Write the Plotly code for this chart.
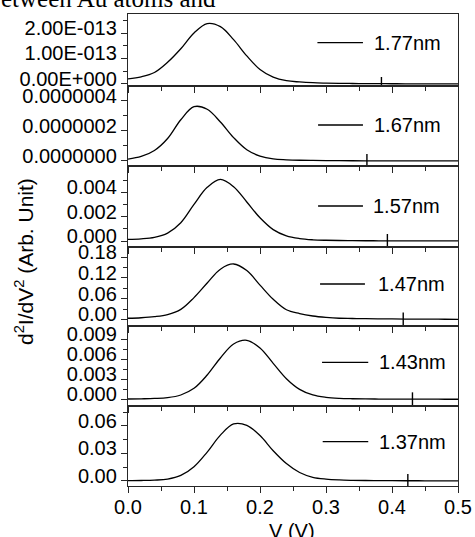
import plotly.graph_objects as go

# ---- data ----
V = [0.00, 0.02, 0.04, 0.06, 0.08, 0.10, 0.12, 0.14, 0.16, 0.18, 0.20, 0.22, 0.24,
     0.26, 0.28, 0.30, 0.32, 0.34, 0.36, 0.38, 0.40, 0.42, 0.44, 0.46, 0.48, 0.50]

labels = ["1.77nm", "1.67nm", "1.57nm", "1.47nm", "1.43nm", "1.37nm"]

# values per panel (panel scale factor applied below)
p177 = [0.20, 0.28, 0.45, 0.85, 1.38, 2.00, 2.37, 2.25, 1.74, 1.10, 0.57, 0.27, 0.13,
        0.08, 0.05, 0.035, 0.025, 0.02, 0.015, 0.012, 0.01, 0.008, 0.006, 0.005, 0.004, 0.003]   # x1e-13
p167 = [0.13, 0.30, 0.70, 1.50, 2.75, 3.62, 3.45, 2.60, 1.56, 0.75, 0.33, 0.14, 0.08,
        0.05, 0.035, 0.025, 0.02, 0.016, 0.013, 0.011, 0.009, 0.007, 0.006, 0.005, 0.004, 0.003]  # x1e-7
p157 = [0.14, 0.18, 0.30, 0.65, 1.50, 3.00, 4.40, 5.05, 4.45, 3.20, 1.90, 0.93, 0.42,
        0.20, 0.10, 0.06, 0.04, 0.03, 0.022, 0.017, 0.013, 0.010, 0.008, 0.006, 0.005, 0.004]  # x1e-3
p147 = [3.5, 5.0, 8.0, 14.0, 29.0, 63.0, 105.0, 145.0, 160.0, 141.0, 99.0, 58.0, 28.0,
        17.0, 10.0, 6.0, 3.5, 2.8, 2.2, 1.8, 1.5, 1.2, 1.0, 0.8, 0.6, 0.5]  # x1e-3
p143 = [0.05, 0.08, 0.13, 0.25, 0.65, 1.65, 3.65, 6.2, 8.3, 8.85, 7.7, 5.4, 3.1,
        1.5, 0.65, 0.3, 0.15, 0.09, 0.06, 0.045, 0.035, 0.028, 0.022, 0.018, 0.015, 0.012]  # x1e-3
p137 = [0.3, 0.5, 0.9, 2.0, 6.0, 15.5, 31.5, 50.0, 62.2, 60.7, 49.5, 33.0, 19.0,
        9.2, 4.0, 2.0, 1.1, 0.7, 0.5, 0.4, 0.32, 0.26, 0.22, 0.18, 0.15, 0.12]  # x1e-3

scales = [1e-13, 1e-7, 1e-3, 1e-3, 1e-3, 1e-3]
series = [p177, p167, p157, p147, p143, p137]

# small vertical marks on the baseline
mark_v = [0.384, 0.362, 0.393, 0.417, 0.431, 0.424]

y_ranges = [[-0.078e-13, 2.745e-13], [-0.333e-7, 5.0e-7], [-0.00049, 0.00615],
            [-0.0188, 0.209], [-0.001, 0.011], [-0.0055, 0.0818]]
y_tickvals = [[0, 1e-13, 2e-13], [0, 2e-7, 4e-7], [0, 0.002, 0.004],
              [0, 0.06, 0.12, 0.18], [0, 0.003, 0.006, 0.009], [0, 0.03, 0.06]]
y_ticktext = [["0.00E+000", "1.00E-013", "2.00E-013"],
              ["0.0000000", "0.0000002", "0.0000004"],
              ["0.000", "0.002", "0.004"],
              ["0.00", "0.06", "0.12", "0.18"],
              ["0.000", "0.003", "0.006", "0.009"],
              ["0.00", "0.03", "0.06"]]
y_minor = [[0.5e-13, 1.5e-13, 2.5e-13], [1e-7, 3e-7], [0.001, 0.003, 0.005],
           [0.03, 0.09, 0.15], [0.0015, 0.0045, 0.0075], [0.015, 0.045, 0.075]]
x_ticks = [0.0, 0.1, 0.2, 0.3, 0.4, 0.5]
x_ticktext = ["0.0", "0.1", "0.2", "0.3", "0.4", "0.5"]

# ---- layout geometry ----
domains = [[0.8475, 1.0], [0.678, 0.8475], [0.5064, 0.678],
           [0.339, 0.5064], [0.1695, 0.339], [0.0, 0.1695]]
legend_y = [0.9392, 0.7648, 0.5932, 0.4280, 0.2621, 0.0939]
legend_line = [[0.287, 0.356], [0.288, 0.356], [0.288, 0.356],
               [0.291, 0.359], [0.294, 0.364], [0.295, 0.364]]
legend_text_x = [0.369, 0.369, 0.368, 0.376, 0.377, 0.377]

FONT = "Liberation Sans, Arial, sans-serif"
AX = "#262626"

fig = go.Figure()
layout = dict(
    width=475, height=537,
    margin=dict(l=128, r=17, t=14, b=51, autoexpand=False),
    paper_bgcolor="white", plot_bgcolor="white",
    showlegend=False,
    font=dict(family=FONT, size=20, color="black"),
)
annotations = []
shapes = []

for i in range(6):
    n = "" if i == 0 else str(i + 1)
    xa, ya = "x" + n, "y" + n
    yv = [v * scales[i] for v in series[i]]
    fig.add_trace(go.Scatter(x=V, y=yv, mode="lines", xaxis=xa, yaxis=ya,
                             line=dict(color="black", width=1.3, shape="spline")))
    fig.add_trace(go.Scatter(x=[mark_v[i]], y=[0], mode="markers", xaxis=xa, yaxis=ya,
                             marker=dict(symbol="line-ns", size=10,
                                         line=dict(color="black", width=1.4))))
    layout["xaxis" + n] = dict(
        domain=[0, 1], anchor=ya, range=[0, 0.5], automargin=False,
        showline=True, linecolor=AX, linewidth=1.3, mirror=True,
        showgrid=False, zeroline=False,
        tickmode="array", tickvals=x_ticks, ticktext=x_ticktext,
        ticks="outside", ticklen=6, tickwidth=1.2, tickcolor=AX,
        minor=dict(tickmode="array", tickvals=[0.05, 0.15, 0.25, 0.35, 0.45],
                   ticks="outside", ticklen=4, tickwidth=1.2, tickcolor=AX),
        showticklabels=(i == 5), ticklabelstandoff=-3,
        tickfont=dict(family=FONT, size=20, color="black"),
    )
    layout["yaxis" + n] = dict(
        domain=domains[i], anchor=xa, range=y_ranges[i], automargin=False,
        showline=True, linecolor=AX, linewidth=1.3, mirror=True,
        showgrid=False, zeroline=False,
        tickmode="array", tickvals=y_tickvals[i], ticktext=y_ticktext[i],
        ticks="outside", ticklen=6, tickwidth=1.2, tickcolor=AX,
        minor=dict(tickmode="array", tickvals=y_minor[i],
                   ticks="outside", ticklen=4, tickwidth=1.2, tickcolor=AX),
        tickfont=dict(family=FONT, size=20, color="black"),
        ticklabelshift=-5,
    )
    # legend sample
    shapes.append(dict(type="line", xref=xa, yref="paper",
                       x0=legend_line[i][0], x1=legend_line[i][1],
                       y0=legend_y[i], y1=legend_y[i],
                       line=dict(color="black", width=1.3)))
    annotations.append(dict(text=labels[i], xref=xa, yref="paper",
                            x=legend_text_x[i], y=legend_y[i],
                            xanchor="left", yanchor="middle", showarrow=False,
                            font=dict(family=FONT, size=20, color="black")))

annotations.append(dict(text="d<sup>2</sup>I/dV<sup>2</sup> (Arb. Unit)",
                        xref="paper", yref="paper", x=-0.315, y=0.4746,
                        xanchor="center", yanchor="middle", textangle=-90,
                        showarrow=False,
                        font=dict(family=FONT, size=21, color="black")))
annotations.append(dict(text="V (V)", xref="paper", yref="paper", x=0.497, y=-0.068,
                        xanchor="center", yanchor="top", showarrow=False,
                        font=dict(family=FONT, size=20, color="black")))
annotations.append(dict(text="etween Au atoms and", xref="paper", yref="paper",
                        x=-0.39, y=1.0005, xanchor="left", yanchor="bottom",
                        showarrow=False,
                        font=dict(family="Liberation Serif, Times New Roman, serif",
                                  size=25, color="black")))

layout["annotations"] = annotations
layout["shapes"] = shapes
fig.update_layout(**layout)
fig.write_html("out.html", config={"displayModeBar": False},
               post_script="document.body.style.margin='0';document.body.style.overflow='hidden';")
